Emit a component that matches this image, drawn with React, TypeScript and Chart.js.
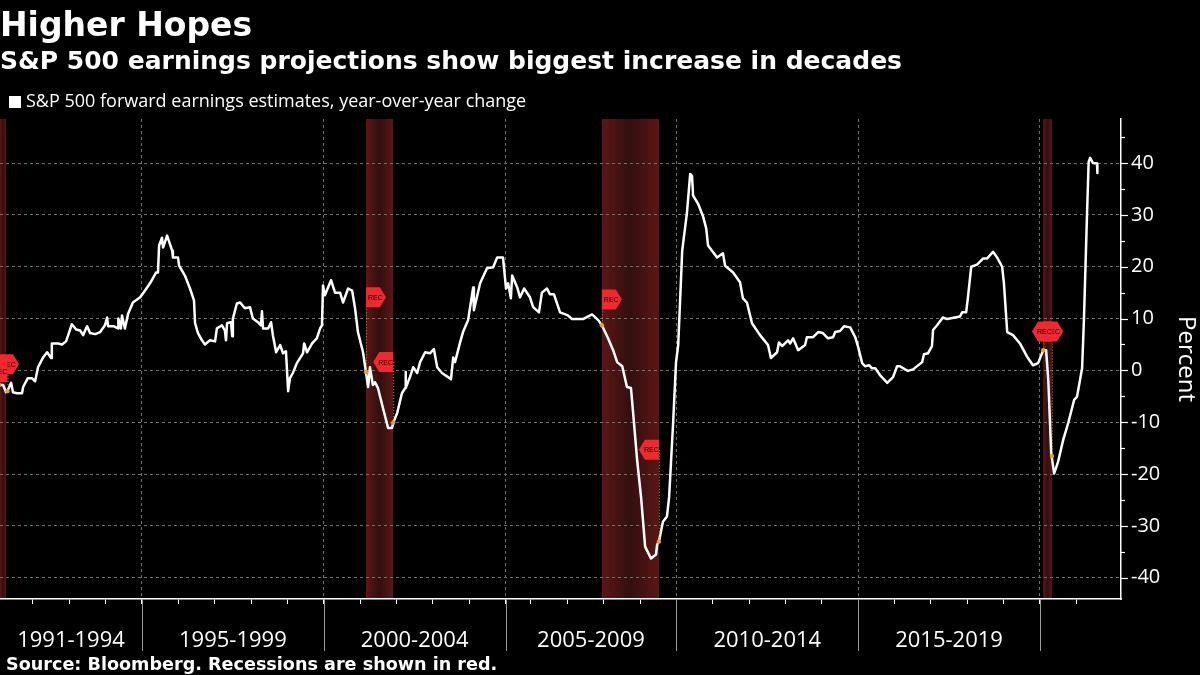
import React, { useEffect, useRef } from "react";
import { Chart, registerables } from "chart.js";

Chart.register(...registerables);

const titleText = "Higher Hopes";
const subtitleText = "S&P 500 earnings projections show biggest increase in decades";
const seriesLabel = "S&P 500 forward earnings estimates, year-over-year change";
const sourceText = "Source: Bloomberg. Recessions are shown in red.";
const axisTitle = "Percent";

// Date of each reading (decimal year)
const dates = [
  1991.09, 1991.18, 1991.26, 1991.31, 1991.40, 1991.45, 1991.56, 1991.70, 1991.73, 1991.86, 1991.97,
  1992.06, 1992.14, 1992.28, 1992.39, 1992.50, 1992.52, 1992.69, 1992.80, 1992.91, 1992.97,
  1993.07, 1993.19, 1993.30, 1993.38, 1993.46, 1993.49, 1993.57, 1993.71, 1993.85, 1993.98,
  1994.04, 1994.07, 1994.23, 1994.34, 1994.35, 1994.42, 1994.45, 1994.53, 1994.62, 1994.75, 1994.95,
  1995.03, 1995.22, 1995.39, 1995.44, 1995.47, 1995.55, 1995.58, 1995.69, 1995.83, 1995.85, 1995.99,
  1996.02, 1996.18, 1996.32, 1996.43, 1996.46, 1996.54, 1996.65, 1996.73, 1996.87,
  1997.01, 1997.06, 1997.20, 1997.28, 1997.31, 1997.34, 1997.45, 1997.48, 1997.50, 1997.61, 1997.70, 1997.83, 1997.97,
  1998.05, 1998.19, 1998.27, 1998.30, 1998.33, 1998.47, 1998.55, 1998.60, 1998.69, 1998.80, 1998.88, 1998.96,
  1999.02, 1999.07, 1999.15, 1999.26, 1999.43, 1999.46, 1999.54, 1999.68, 1999.81, 1999.90, 1999.95, 1999.98,
  2000.03, 2000.20, 2000.31, 2000.45, 2000.53, 2000.67, 2000.78, 2000.86, 2000.94,
  2001.08, 2001.16, 2001.22, 2001.27, 2001.35, 2001.41, 2001.49, 2001.63, 2001.77, 2001.88, 2001.91,
  2002.02, 2002.15, 2002.24, 2002.25, 2002.26, 2002.37, 2002.46, 2002.57, 2002.65, 2002.79, 2002.92,
  2003.03, 2003.12, 2003.25, 2003.42, 2003.50, 2003.56, 2003.61, 2003.75, 2003.83, 2003.97,
  2004.11, 2004.13, 2004.30, 2004.49, 2004.66, 2004.77, 2004.93,
  2005.02, 2005.10, 2005.21, 2005.26, 2005.46, 2005.57, 2005.73, 2005.96,
  2006.06, 2006.22, 2006.30, 2006.44, 2006.52, 2006.63, 2006.80,
  2007.02, 2007.13, 2007.43, 2007.68, 2007.85, 2007.95,
  2008.12, 2008.26, 2008.37, 2008.51, 2008.64, 2008.75, 2008.81, 2008.92,
  2009.03, 2009.14, 2009.30, 2009.44, 2009.47, 2009.52, 2009.63, 2009.74, 2009.80, 2009.91, 2009.99,
  2010.05, 2010.16, 2010.29, 2010.38, 2010.43, 2010.46, 2010.60, 2010.73, 2010.82, 2010.87,
  2011.12, 2011.28, 2011.34, 2011.56, 2011.75, 2011.83, 2011.94,
  2012.08, 2012.30, 2012.52, 2012.60, 2012.77, 2012.82, 2012.91,
  2013.07, 2013.13, 2013.21, 2013.35, 2013.54, 2013.59, 2013.76, 2013.90,
  2014.03, 2014.17, 2014.31, 2014.37, 2014.50, 2014.61, 2014.78, 2014.92,
  2015.00, 2015.11, 2015.19, 2015.30, 2015.38, 2015.47, 2015.60, 2015.80, 2015.96,
  2016.07, 2016.15, 2016.29, 2016.37, 2016.51, 2016.76, 2016.81, 2016.92,
  2017.03, 2017.06, 2017.17, 2017.33, 2017.45, 2017.80, 2017.86, 2017.97,
  2018.02, 2018.11, 2018.27, 2018.44, 2018.55, 2018.71, 2018.82, 2018.96,
  2019.01, 2019.10, 2019.26, 2019.45, 2019.65, 2019.81, 2019.95,
  2020.09, 2020.17, 2020.23, 2020.31, 2020.39, 2020.50, 2020.64, 2020.78, 2020.94,
  2021.02, 2021.16, 2021.21, 2021.29, 2021.34, 2021.38, 2021.46, 2021.57, 2021.58,
];

// Year-over-year change, percent
const values = [
  -2.8, -2.8, -4.2, -3.8, -2.4, -4.2, -4.4, -4.4, -3.2, -1.5, -1.5,
  -2.1, 0.6, 2.5, 3.5, 2.4, 5.2, 5.2, 5.0, 5.6, 6.8,
  8.9, 7.9, 7.7, 6.8, 8.1, 8.5, 7.2, 7.0, 7.4, 8.7,
  10.2, 8.5, 8.5, 8.1, 10.0, 8.1, 10.6, 8.1, 11.0, 13.1, 14.1,
  14.9, 16.8, 18.9, 18.9, 24.1, 25.6, 23.7, 26.0, 23.1, 21.8, 21.8,
  20.2, 18.3, 15.8, 13.5, 9.1, 7.2, 5.8, 5.0, 5.8,
  5.6, 8.1, 8.7, 7.7, 5.8, 9.1, 9.3, 6.6, 10.0, 12.9, 13.1, 12.0, 12.2,
  10.0, 9.3, 8.7, 11.4, 8.1, 8.1, 9.3, 6.8, 3.5, 4.9, 3.3, 3.7,
  -4.0, -1.5, -0.5, 1.4, 3.3, 5.2, 3.5, 5.2, 6.2, 8.1, 8.7, 16.4,
  14.5, 17.4, 15.0, 15.0, 13.1, 15.8, 15.4, 12.0, 7.4,
  3.5, -0.3, -3.2, 0.6, -2.8, -2.3, -3.4, -7.3, -11.1, -11.1, -10.1,
  -8.2, -4.4, -3.4, -0.3, -3.4, -1.3, 0.6, -0.5, 1.6, 3.5, 3.3,
  4.1, 0.6, -0.5, -1.3, -1.7, 2.5, 1.6, 5.4, 7.4, 9.7,
  16.0, 11.6, 16.8, 19.7, 19.9, 21.8, 21.8,
  15.8, 16.8, 13.9, 18.3, 16.0, 14.1, 15.8, 14.1,
  12.2, 11.2, 15.0, 15.8, 14.7, 14.7, 11.2,
  10.6, 9.9, 9.9, 10.8, 9.7, 8.7,
  6.2, 3.9, 1.6, 0.8, -3.2, -3.4, -8.2, -17.3,
  -24.6, -34.0, -36.3, -35.5, -33.6, -33.0, -29.2, -28.2, -24.4, -10.1, 1.6,
  4.9, 23.1, 30.4, 37.9, 37.5, 33.7, 32.1, 29.8, 27.4, 24.1,
  21.8, 22.6, 20.2, 18.9, 17.0, 13.9, 13.1,
  9.1, 6.8, 4.9, 2.4, 3.5, 5.4, 4.7,
  5.8, 5.2, 6.2, 3.9, 4.9, 6.4, 6.4, 7.4,
  7.2, 6.2, 6.4, 7.4, 7.6, 8.5, 8.3, 6.4,
  4.5, 1.4, 0.8, 1.0, 0.4, 0.4, -0.9, -2.4, -1.3,
  0.8, 0.8, 0.2, -0.1, 0.2, 1.6, 3.1, 3.3,
  4.7, 7.8, 8.7, 10.2, 9.9, 10.4, 11.2, 11.2,
  14.1, 20.0, 20.4, 21.6, 21.6, 22.9, 21.8, 20.0,
  16.8, 7.4, 6.8, 5.2, 2.6, 1.0, 1.4,
  3.9, 3.9, -1.9, -15.9, -19.9, -17.6, -13.4, -10.1, -5.7,
  -5.1, 0.4, 9.7, 28.9, 40.2, 41.0, 40.0, 39.9, 38.1,
];

const recessionStarts = [1991.05, 2001.16, 2007.95, 2020.09];
const recessionEnds = [1991.26, 2001.91, 2009.52, 2020.33];

// REC flags: date and value of the marked reading, the value the flag sits at, and where it points
const flagDates = [1991.05, 1991.3, 2001.16, 2001.91, 2007.95, 2009.52, 2020.09, 2020.33];
const flagReadings = [-2.8, -4.0, -0.3, -10.1, 8.7, -33.0, 3.9, -16.5];
const flagLevels = [1.2, -0.3, 14.1, 1.6, 13.7, -15.3, 7.5, 7.5];
const flagPoints = ["right", "left", "right", "left", "right", "left", "right", "left"];

const eraLabels = ["1991-1994", "1995-1999", "2000-2004", "2005-2009", "2010-2014", "2015-2019"];
const eraYears = [1995, 2000, 2005, 2010, 2015, 2020];
const tickYears = [
  1992, 1993, 1994, 1995, 1996, 1997, 1998, 1999, 2000, 2001, 2002, 2003, 2004, 2005, 2006, 2007,
  2008, 2009, 2010, 2011, 2012, 2013, 2014, 2015, 2016, 2017, 2018, 2019, 2020, 2021,
];

const xMin = 1991.094;
const xMax = 2021.93;
const yMin = -44.1;
const yMax = 48.5;
const GAP = 0.3; // the source's time axis loses about a quarter during 2005

const toAxis = (d: number) => (d < 2005 ? d : d >= 2006 ? d - GAP : 2005 + (d - 2005) * (1 - GAP));

const BODY = "'Open Sans', sans-serif";
const BOLD = "'DejaVu Sans', sans-serif";

const overlay = {
  id: "overlay",
  beforeLayout(chart: any) {
    const legend = chart.legend;
    if (legend && !legend.__fitted) {
      legend.__fitted = true;
      const fit = legend.fit;
      legend.fit = function () {
        fit.call(this);
        this.height -= 2;
      };
    }
  },
  beforeDraw(chart: any) {
    const { ctx, chartArea: a, scales } = chart;
    ctx.save();
    ctx.fillStyle = "#000";
    ctx.fillRect(0, 0, chart.width, chart.height);
    recessionStarts.forEach((s, i) => {
      const x0 = Math.max(scales.x.getPixelForValue(toAxis(s)), a.left);
      const x1 = scales.x.getPixelForValue(toAxis(recessionEnds[i]));
      const g = ctx.createLinearGradient(x0, 0, x1, 0);
      g.addColorStop(0, "#5c1616");
      g.addColorStop(0.5, "#320f0f");
      g.addColorStop(1, "#5c1616");
      ctx.fillStyle = g;
      ctx.fillRect(x0, a.top, x1 - x0, a.bottom - a.top);
    });
    ctx.restore();
  },
  afterDraw(chart: any) {
    const { ctx, chartArea: a, scales } = chart;
    const { x, y } = scales;
    ctx.save();
    // flags, dotted leaders and marked readings
    flagDates.forEach((d, i) => {
      const px = Math.max(x.getPixelForValue(toAxis(d)), -1);
      const py = y.getPixelForValue(flagLevels[i]);
      const dot = y.getPixelForValue(flagReadings[i]);
      ctx.strokeStyle = "#d9902a";
      ctx.lineWidth = 1;
      ctx.setLineDash([1, 2]);
      ctx.beginPath();
      ctx.moveTo(px + 0.5, py);
      ctx.lineTo(px + 0.5, dot);
      ctx.stroke();
      ctx.setLineDash([]);
      ctx.fillStyle = "#e8a030";
      ctx.beginPath();
      ctx.arc(px, dot, 2.2, 0, Math.PI * 2);
      ctx.fill();
    });
    flagDates.forEach((d, i) => {
      const px = Math.max(x.getPixelForValue(toAxis(d)), -1);
      const py = y.getPixelForValue(flagLevels[i]);
      const dir = flagPoints[i] === "right" ? 1 : -1;
      ctx.fillStyle = "#f2282e";
      ctx.beginPath();
      ctx.moveTo(px, py - 10);
      ctx.lineTo(px + dir * 14, py - 10);
      ctx.lineTo(px + dir * 20, py);
      ctx.lineTo(px + dir * 14, py + 10);
      ctx.lineTo(px, py + 10);
      ctx.closePath();
      ctx.fill();
      ctx.fillStyle = "#1a0000";
      ctx.font = "7px 'Liberation Sans', sans-serif";
      ctx.textAlign = "left";
      ctx.textBaseline = "middle";
      ctx.fillText("REC", dir > 0 ? px + 2 : px - 15, py + 0.5);
    });
    // y tick marks
    ctx.strokeStyle = "#fff";
    ctx.lineWidth = 1.2;
    y.ticks.forEach((t: any) => {
      const p = Math.round(y.getPixelForValue(t.value)) + 0.5;
      ctx.beginPath();
      ctx.moveTo(a.right, p);
      ctx.lineTo(a.right + (t.value % 10 === 0 ? 7 : 4), p);
      ctx.stroke();
    });
    // era separators and labels below the x axis
    ctx.strokeStyle = "#9a9a9a";
    ctx.lineWidth = 1;
    const edges = [a.left, ...eraYears.map((v) => x.getPixelForValue(toAxis(v)))];
    eraYears.forEach((_, i) => {
      const p = Math.round(edges[i + 1]) + 0.5;
      ctx.beginPath();
      ctx.moveTo(p, a.bottom);
      ctx.lineTo(p, 651);
      ctx.stroke();
    });
    ctx.fillStyle = "#fff";
    ctx.font = `22px ${BODY}`;
    ctx.textAlign = "center";
    ctx.textBaseline = "alphabetic";
    eraLabels.forEach((l, i) => ctx.fillText(l, (edges[i] + edges[i + 1]) / 2, 647));
    // source
    ctx.font = `bold 17.6px ${BOLD}`;
    ctx.textAlign = "left";
    ctx.fillText(sourceText, 6, 670);
    ctx.restore();
  },
};

export default function App() {
  const ref = useRef<HTMLCanvasElement>(null);
  useEffect(() => {
    document.body.style.background = "#000";
    const chart = new Chart(ref.current as HTMLCanvasElement, {
      type: "line",
      data: {
        datasets: [
          {
            label: seriesLabel,
            data: dates.map((d, i) => ({ x: toAxis(d), y: values[i] })),
            borderColor: "#fff",
            backgroundColor: "#fff",
            borderWidth: 2.5,
            pointRadius: 0,
            tension: 0,
            borderJoinStyle: "round",
          },
        ],
      },
      plugins: [overlay],
      options: {
        animation: false,
        responsive: false,
        layout: { autoPadding: false, padding: 0 },
        plugins: {
          tooltip: { enabled: false },
          title: {
            display: true,
            text: titleText,
            align: "start",
            color: "#fff",
            font: { family: BOLD, size: 33, weight: "bold", lineHeight: 1 },
            padding: { top: 11, bottom: 0 },
          },
          subtitle: {
            display: true,
            text: subtitleText,
            align: "start",
            color: "#fff",
            font: { family: BOLD, size: 25, weight: "bold", lineHeight: 1 },
            padding: { top: 6, bottom: 5 },
          },
          legend: {
            display: true,
            position: "top",
            align: "start",
            labels: {
              color: "#fff",
              font: { family: BODY, size: 18 },
              boxWidth: 4,
              boxHeight: 4,
              padding: 13,
              generateLabels: () => [
                {
                  text: seriesLabel,
                  fillStyle: "#fff",
                  strokeStyle: "#fff",
                  lineWidth: 8,
                  lineJoin: "miter",
                  fontColor: "#fff",
                  datasetIndex: 0,
                },
              ],
            },
          },
        },
        scales: {
          x: {
            type: "linear",
            min: xMin,
            max: xMax,
            afterBuildTicks(axis: any) {
              axis.ticks = tickYears.map((v) => ({ value: toAxis(v) }));
            },
            afterFit(axis: any) {
              axis.height = 76;
            },
            ticks: { autoSkip: false, maxRotation: 0, callback: () => "", padding: 0 },
            border: { color: "#fff", width: 1.5, dash: [3, 3] },
            grid: {
              tickLength: 5,
              tickBorderDash: [],
              tickColor: "#fff",
              color: (c: any) =>
                c.tick && eraYears.some((v) => Math.abs(toAxis(v) - c.tick.value) < 1e-6)
                  ? "#707070"
                  : "rgba(0,0,0,0)",
            },
          },
          y: {
            type: "linear",
            position: "right",
            min: yMin,
            max: yMax,
            afterFit(axis: any) {
              axis.width = 79;
            },
            ticks: {
              stepSize: 5,
              includeBounds: false,
              autoSkip: false,
              color: "#fff",
              padding: 10,
              font: { family: BODY, size: 20 },
              callback: (v: any) => (v % 10 === 0 ? String(v) : ""),
            },
            title: {
              display: true,
              text: axisTitle,
              color: "#fff",
              font: { family: BODY, size: 24 },
              padding: { top: 0, bottom: 2 },
            },
            border: { color: "#fff", width: 1.5, dash: [3, 3] },
            grid: {
              drawTicks: false,
              color: (c: any) => (c.tick && c.tick.value % 10 === 0 ? "#707070" : "rgba(0,0,0,0)"),
            },
          },
        },
      },
    } as any);
    return () => chart.destroy();
  }, []);
  return (
    <div style={{ position: "absolute", left: 0, top: 0, width: 1200, height: 675, background: "#000" }}>
      <canvas ref={ref} width={1200} height={675} style={{ display: "block" }} />
    </div>
  );
}
